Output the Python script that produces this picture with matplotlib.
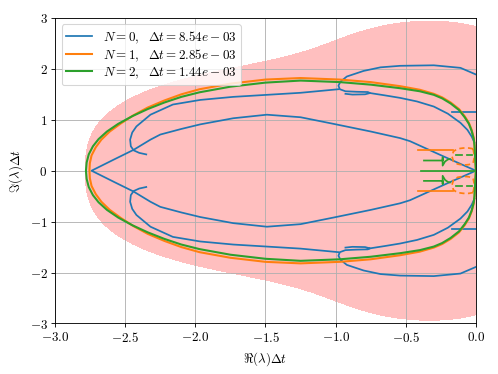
import numpy as np
import matplotlib
matplotlib.use("Agg")
import matplotlib.pyplot as plt

plt.rcParams["mathtext.fontset"] = "cm"
plt.rcParams["font.size"] = 12

# RK4 stability polynomial coefficients (z^0 ... z^4)
rk4_coeffs = [1.0, 1.0, 1 / 2, 1 / 6, 1 / 24]

labels = [
    r"$N = 0,\ \ \Delta t = 8.54e - 03$",
    r"$N = 1,\ \ \Delta t = 2.85e - 03$",
    r"$N = 2,\ \ \Delta t = 1.44e - 03$",
]

# N = 0 spectrum (upper half, the lower half is the conjugate)
blue_inner_re = [0.0, -0.23, -0.47, -0.54, -0.75, -1.015, -1.25, -1.49, -1.73, -1.965,
                 -2.10, -2.25, -2.32, -2.44, -2.58, -2.74]
blue_inner_im = [0.0, 0.28, 0.58, 0.64, 0.77, 0.92, 1.05, 1.10, 1.03, 0.91,
                 0.82, 0.71, 0.61, 0.41, 0.22, 0.0]
blue_mid_re = [-2.35, -2.40, -2.44, -2.46, -2.465, -2.45, -2.42, -2.32, -2.16, -1.965,
               -1.73, -1.49, -1.25, -0.98]
blue_mid_im = [0.32, 0.35, 0.40, 0.48, 0.61, 0.75, 0.87, 1.10, 1.30, 1.39,
               1.45, 1.49, 1.53, 1.60]
blue_outer_re = [0.0, -0.11, -0.30, -0.54, -0.68, -0.80, -0.92, -0.965, -0.98, -0.97,
                 -0.93, -0.85, -0.77, -0.755, -0.79, -0.88, -0.93]
blue_outer_im = [1.89, 2.02, 2.07, 2.06, 2.03, 1.96, 1.85, 1.75, 1.67, 1.60,
                 1.56, 1.55, 1.545, 1.525, 1.50, 1.495, 1.51]
blue_tail_re = [-0.755, -0.65, -0.54, -0.42, -0.30, -0.20, -0.11, -0.06, -0.03, -0.01]
blue_tail_im = [1.525, 1.48, 1.43, 1.36, 1.26, 1.12, 0.94, 0.80, 0.67, 0.55]
blue_short_re = [-0.17, 0.0]
blue_short_im = [1.15, 1.15]

# N = 1 spectrum
orange_re = [0.0, -0.003, -0.006, -0.01, -0.015, -0.03, -0.05, -0.08, -0.12, -0.18,
             -0.24, -0.30, -0.40, -0.54, -0.75, -0.97, -1.25, -1.50, -1.75, -1.97,
             -2.10, -2.22, -2.34, -2.44, -2.53, -2.61, -2.67, -2.71, -2.74, -2.752, -2.755]
orange_im = [0.0, 0.15, 0.30, 0.50, 0.64, 0.80, 0.94, 1.07, 1.21, 1.34,
             1.44, 1.51, 1.59, 1.66, 1.74, 1.79, 1.82, 1.79, 1.71, 1.60,
             1.50, 1.38, 1.24, 1.09, 0.93, 0.77, 0.61, 0.46, 0.30, 0.15, 0.0]
orange_bar_re = [-0.41, -0.16]
orange_bar_im = [0.40, 0.40]
orange_ring_re = [-0.02, -0.05, -0.09, -0.13, -0.16, -0.17, -0.16, -0.13, -0.09, -0.05, -0.02, -0.01, -0.02]
orange_ring_im = [0.43, 0.445, 0.445, 0.43, 0.38, 0.28, 0.18, 0.13, 0.11, 0.12, 0.15, 0.28, 0.43]

# N = 2 spectrum
green_re = [0.0, -0.003, -0.006, -0.01, -0.015, -0.03, -0.05, -0.08, -0.12, -0.18,
            -0.24, -0.30, -0.40, -0.54, -0.75, -0.97, -1.25, -1.50, -1.75, -1.97,
            -2.10, -2.22, -2.34, -2.45, -2.55, -2.63, -2.69, -2.73, -2.76, -2.775, -2.78]
green_im = [0.0, 0.15, 0.30, 0.50, 0.62, 0.78, 0.92, 1.05, 1.19, 1.32,
            1.42, 1.49, 1.56, 1.62, 1.69, 1.74, 1.77, 1.73, 1.65, 1.54,
            1.45, 1.34, 1.21, 1.07, 0.92, 0.77, 0.62, 0.48, 0.32, 0.16, 0.0]
green_axis_re = [-0.39, 0.0]
green_axis_im = [0.0, 0.0]
green_bar_re = [-0.37, -0.237, -0.237, -0.237, -0.22, -0.20, -0.185]
green_bar_im = [0.20, 0.20, 0.26, 0.10, 0.18, 0.22, 0.23]
green_dash_re = [-0.14, -0.10]
green_dash_im = [0.31, 0.31]
green_dash2_re = [-0.06, -0.03]
green_dash2_im = [0.31, 0.31]


def closed(re, im):
    re = np.asarray(re)
    im = np.asarray(im)
    return np.r_[re, re[::-1]], np.r_[im, -im[::-1]]


def pair(re, im):
    re = np.asarray(re)
    im = np.asarray(im)
    return np.r_[re, np.nan, re], np.r_[im, np.nan, -im]


fig = plt.figure(figsize=(6.39, 4.8), dpi=78)
ax = fig.add_axes([0.1105, 0.135, 0.8443, 0.816])

xs = np.linspace(-3.3, 0.5, 700)
ys = np.linspace(-3.4, 3.4, 700)
X, Y = np.meshgrid(xs, ys)
amp = np.abs(np.polyval(rk4_coeffs[::-1], X + 1j * Y))
ax.contourf(X, Y, amp, levels=[0, 1], colors=["#ffbfbf"], zorder=0)

c_blue, c_orange, c_green = "#1f77b4", "#ff7f0e", "#2ca02c"
lw = 1.6

ax.plot(*closed(blue_inner_re, blue_inner_im), color=c_blue, lw=lw, label=labels[0])
ax.plot(*pair(blue_mid_re, blue_mid_im), color=c_blue, lw=lw)
ax.plot(*pair(blue_outer_re, blue_outer_im), color=c_blue, lw=lw)
ax.plot(*pair(blue_tail_re, blue_tail_im), color=c_blue, lw=lw)
ax.plot(*pair(blue_short_re, blue_short_im), color=c_blue, lw=lw)

ax.plot(*closed(orange_re, orange_im), color=c_orange, lw=1.9, label=labels[1])
ax.plot(*pair(orange_bar_re, orange_bar_im), color=c_orange, lw=lw)
ax.plot(*pair(orange_ring_re, orange_ring_im), color=c_orange, lw=lw, ls=(0, (3, 2)))

ax.plot(*closed(green_re, green_im), color=c_green, lw=1.9, label=labels[2])
ax.plot(green_axis_re, green_axis_im, color=c_green, lw=lw)
ax.plot(*pair(green_bar_re, green_bar_im), color=c_green, lw=lw)
ax.plot(*pair(green_dash_re, green_dash_im), color=c_green, lw=lw)
ax.plot(*pair(green_dash2_re, green_dash2_im), color=c_green, lw=lw)

ax.set_xlim(-3, 0)
ax.set_ylim(-3, 3)
xt = [-3.0, -2.5, -2.0, -1.5, -1.0, -0.5, 0.0]
yt = [-3, -2, -1, 0, 1, 2, 3]
ax.set_xticks(xt)
ax.set_xticklabels([f"${v:.1f}$" for v in xt])
ax.set_yticks(yt)
ax.set_yticklabels([f"${v:d}$" for v in yt])
ax.grid(True, color="#b0b0b0", lw=0.8)
ax.set_xlabel(r"$\Re(\lambda)\Delta t$")
ax.set_ylabel(r"$\Im(\lambda)\Delta t$")
ax.legend(loc="upper left", labelspacing=0.15, borderpad=0.35)

fig.savefig("out.png", dpi=78)
